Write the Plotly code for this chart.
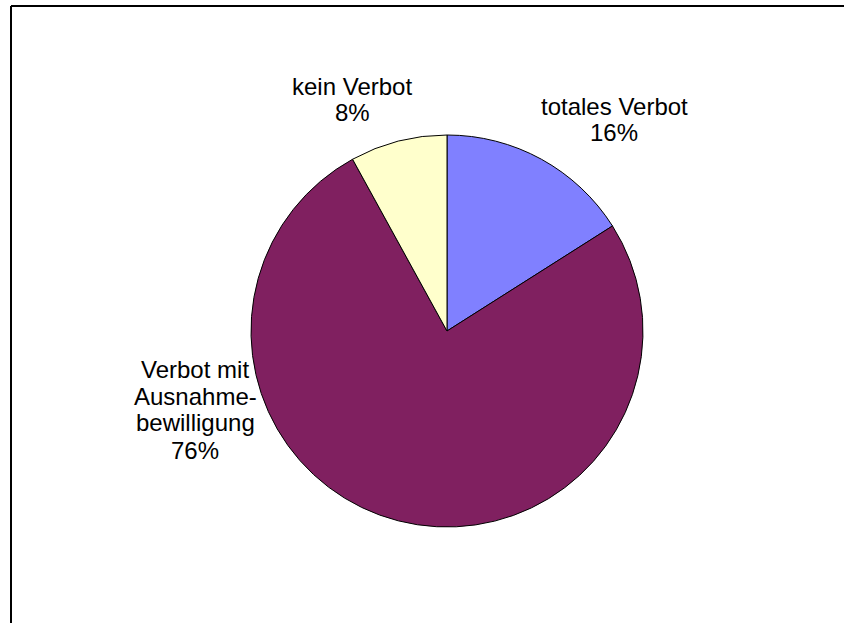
import plotly.graph_objects as go

# Data
categories = ["totales Verbot", "Verbot mit<br>Ausnahme-<br>bewilligung", "kein Verbot"]
values = [16, 76, 8]
colors = ["#8080FF", "#802060", "#FFFFCC"]
# label block anchors: (x center, y of first line, line spacing) in page pixels
label_pos = [(614, 106, 26), (195, 369, 27), (352, 87, 26)]

W, H = 844, 623
cx, cy, r = 447, 331, 196

fig = go.Figure()
fig.add_trace(go.Pie(
    labels=categories,
    values=values,
    sort=False,
    direction="clockwise",
    rotation=0,
    marker=dict(colors=colors, line=dict(color="black", width=1)),
    textinfo="none",
    hoverinfo="skip",
    showlegend=False,
    domain=dict(x=[(cx - r) / W, (cx + r) / W], y=[(H - cy - r) / H, (H - cy + r) / H]),
))

total = sum(values)
for cat, v, (px, py, dy) in zip(categories, values, label_pos):
    lines = cat.split("<br>") + [f"{round(100 * v / total)}%"]
    for i, line in enumerate(lines):
        fig.add_annotation(
            x=px / W, y=1 - (py + i * dy) / H, xref="paper", yref="paper",
            text=line,
            showarrow=False, xanchor="center", yanchor="middle",
            font=dict(family="Liberation Sans, Arial, sans-serif", size=24, color="black"),
            align="center", borderpad=0,
        )

# Chart area frame (partly cropped)
fig.add_shape(type="line", xref="paper", yref="paper",
              x0=11 / W, x1=1.01, y0=1 - 6 / H, y1=1 - 6 / H,
              line=dict(color="black", width=2))
fig.add_shape(type="line", xref="paper", yref="paper",
              x0=11 / W, x1=11 / W, y0=1 - 6 / H, y1=-0.01,
              line=dict(color="black", width=2))

fig.update_layout(
    width=W, height=H,
    margin=dict(l=0, r=0, t=0, b=0),
    paper_bgcolor="white",
    plot_bgcolor="white",
)

fig.write_html("out.html", config={"displayModeBar": False},
               post_script="document.body.style.margin='0';document.body.style.overflow='hidden';")
